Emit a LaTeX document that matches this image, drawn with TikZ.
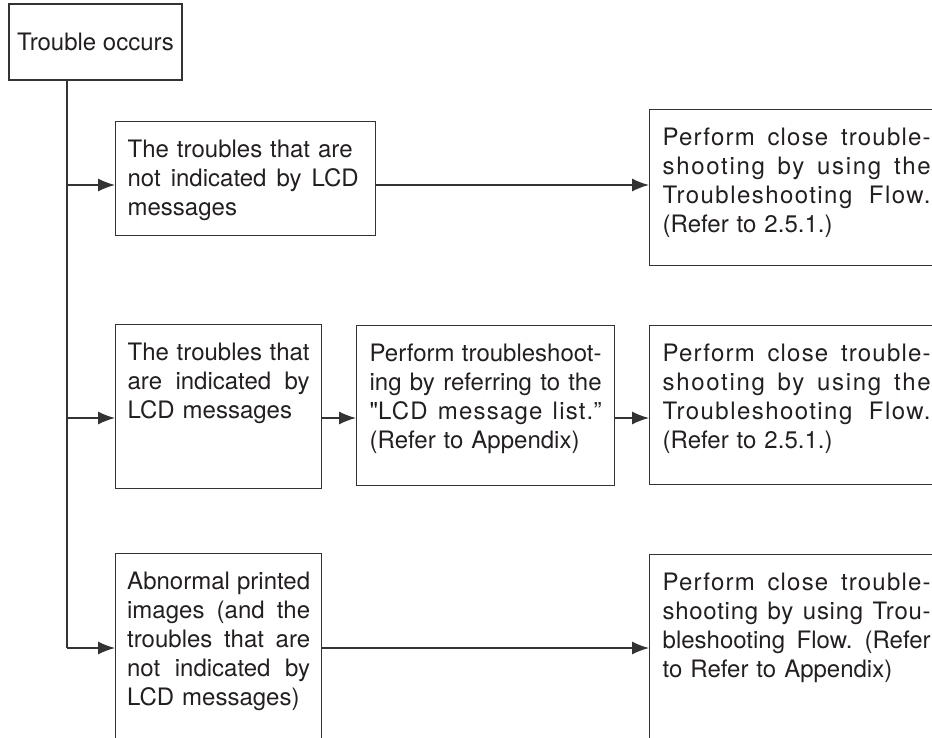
\documentclass[tikz,border=0pt]{standalone}
\usepackage{fontspec}
\setmainfont{TeX Gyre Heros}
\usetikzlibrary{arrows.meta}
\definecolor{ink}{HTML}{231F20}
\definecolor{frame}{HTML}{333333}
\newlength\colw
\newcommand\jl[2][\colw]{\leavevmode\hbox to #1{\spaceskip=.278em plus 1fil\relax#2}}
\newcommand\ls[2][5]{\leavevmode\hbox to \colw{\addfontfeature{LetterSpace=#1}\spaceskip=.3em plus 1fil\relax#2}}
\begin{document}
\begin{tikzpicture}[x=1pt,y=-1pt,>={Latex[length=17pt,width=13pt]},
  font=\fontsize{24}{29}\selectfont,
  box/.style={draw=frame,line width=1.3pt,text=ink,anchor=north west,
    inner xsep=12pt,inner ysep=12pt,align=left,text height=24pt,
    text width=#1},
  flow/.style={box=268pt,inner xsep=13pt},
  wire/.style={draw=frame,line width=1.3pt}]
  \useasboundingbox (0,0) rectangle (932,737);
  \clip (0,0) rectangle (932,737);
  \node[draw=frame,line width=1.3pt,text=ink,minimum width=173pt,minimum height=76pt]
    (occ) at (95.5,42) {Trouble occurs};
  \coordinate (trunk) at ([xshift=58.5pt]occ.south west);
  \coordinate (r1) at (0,185);
  \coordinate (r2) at (0,418);
  \coordinate (r3) at (0,648);
  % first row
  \node[box=236pt,text depth=66pt] (nolcd) at (115,121)
    {\colw=231pt The troubles that are\\\jl{not indicated by LCD}\\messages};
  \node[flow,text depth=108pt] (flow1) at (649,109)
    {\colw=268pt \ls{Perform close trouble-}\\\ls[7]{shooting by using the}\\\ls[6]{Troubleshooting Flow.}\\(Refer to 2.5.1.)};
  % second row
  \node[box=182pt,text depth=116pt] (withlcd) at (115,324)
    {\colw=182pt \jl{The troubles that}\\\jl{are indicated by}\\LCD messages};
  \node[box=232pt,inner xsep=13pt,text depth=112pt] (msglist) at (356,325)
    {\colw=232pt \jl{Perform troubleshoot-}\\\jl{ing by referring to the}\\\ls{\textquotedbl LCD message list.”}\\(Refer to Appendix)};
  \node[flow,text depth=111pt] (flow2) at (649,325)
    {\colw=268pt \ls{Perform close trouble-}\\\ls[7]{shooting by using the}\\\ls[6]{Troubleshooting Flow.}\\(Refer to 2.5.1.)};
  % third row
  \node[box=183pt,inner xsep=11.5pt,text depth=200pt] (images) at (115,553)
    {\colw=183pt \jl{Abnormal printed}\\\jl{images (and the}\\\jl{troubles that are}\\\jl{not indicated by}\\LCD messages)};
  \node[flow,text depth=200pt] (flow3) at (649,554)
    {\colw=268pt \ls{Perform close trouble-}\\\ls[3]{shooting by using Trou-}\\\jl{bleshooting Flow. (Refer}\\to Refer to Appendix)};
  % connectors
  \draw[wire] (trunk) -- (trunk |- r3);
  \foreach \b/\r in {nolcd/r1,withlcd/r2,images/r3}
    \draw[wire,->] (trunk |- \r) -- (\b.west |- \r);
  \foreach \a/\b/\r in {nolcd/flow1/r1,withlcd/msglist/r2,msglist/flow2/r2,images/flow3/r3}
    \draw[wire,->] (\a.east |- \r) -- (\b.west |- \r);
\end{tikzpicture}
\end{document}
